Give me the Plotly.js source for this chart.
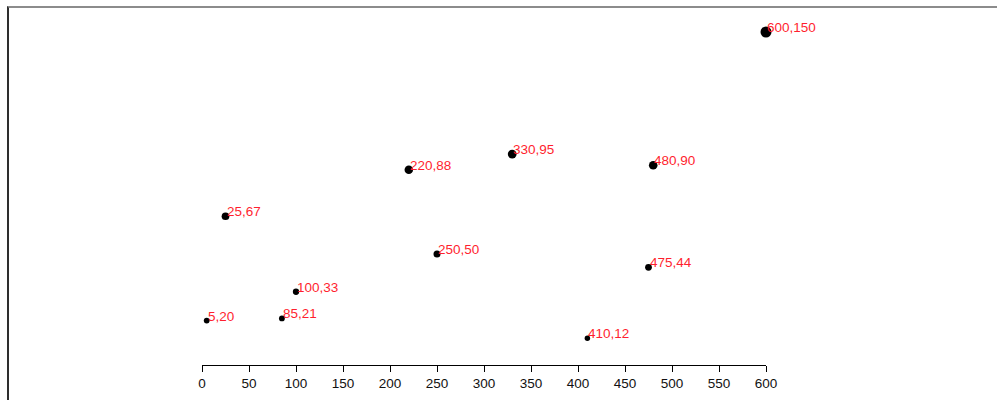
<!DOCTYPE html>
<html>
<head>
<meta charset="utf-8">
<script src="https://cdn.plot.ly/plotly-3.0.1.min.js"></script>
<style>
  html, body { margin: 0; padding: 0; background: #fff; }
  #wrap { position: relative; width: 997px; height: 400px; overflow: hidden; }
  #chart { width: 997px; height: 400px; }
  #frame { position: absolute; left: 7px; top: 6px; right: -5px; bottom: -5px;
           border-top: 2px solid #8c8c8c; border-left: 2px solid #2e2e2e; pointer-events: none; }
</style>
</head>
<body>
<div id="wrap">
  <div id="chart"></div>
  <div id="frame"></div>
</div>
<script>
// Data (x, y) pairs
const xValues = [5, 480, 250, 100, 330, 410, 475, 25, 85, 220, 600];
const yValues = [20, 90, 50, 33, 95, 12, 44, 67, 21, 88, 150];
const xTicks = [0, 50, 100, 150, 200, 250, 300, 350, 400, 450, 500, 550, 600];

// radius scale: domain [0, max y] -> range [2.5, 5.5]
const yMax = Math.max(...yValues);
const rScale = v => 2.5 + 3 * v / yMax;
const markerSizes = yValues.map(v => 2 * rScale(v));

const labels = xValues.map((x, i) => x + "," + yValues[i]);

const FONT = 'Liberation Sans, Arial, Helvetica, sans-serif';

const trace = {
  type: 'scatter',
  mode: 'markers',
  x: xValues,
  y: yValues,
  marker: { color: '#000', opacity: 1, size: markerSizes, line: { width: 0 } },
  cliponaxis: false,
  hoverinfo: 'skip'
};

const annotations = xValues.map((x, i) => ({
  x: x, y: yValues[i], xref: 'x', yref: 'y',
  text: labels[i], showarrow: false,
  xanchor: 'left', yanchor: 'bottom',
  xshift: -1, yshift: -5,
  font: { family: FONT, size: 13.5, color: '#ff1f2f' }
}));

const layout = {
  width: 997, height: 400,
  margin: { l: 202, r: 231, t: 32, b: 35, pad: 0 },
  paper_bgcolor: '#fff', plot_bgcolor: '#fff',
  showlegend: false,
  font: { family: FONT, size: 13, color: '#000' },
  xaxis: {
    range: [0, 600], tickvals: xTicks, ticktext: xTicks.map(String),
    showline: true, linecolor: '#000', linewidth: 1,
    ticks: 'outside', ticklen: 6, tickwidth: 1, tickcolor: '#000',
    showgrid: false, zeroline: false, fixedrange: true,
    tickfont: { family: FONT, size: 13.5, color: '#111' }
  },
  yaxis: {
    range: [0, 150], visible: false, showgrid: false, zeroline: false, fixedrange: true
  },
  annotations: annotations
};

Plotly.newPlot('chart', [trace], layout, { staticPlot: true, displayModeBar: false });
</script>
</body>
</html>
